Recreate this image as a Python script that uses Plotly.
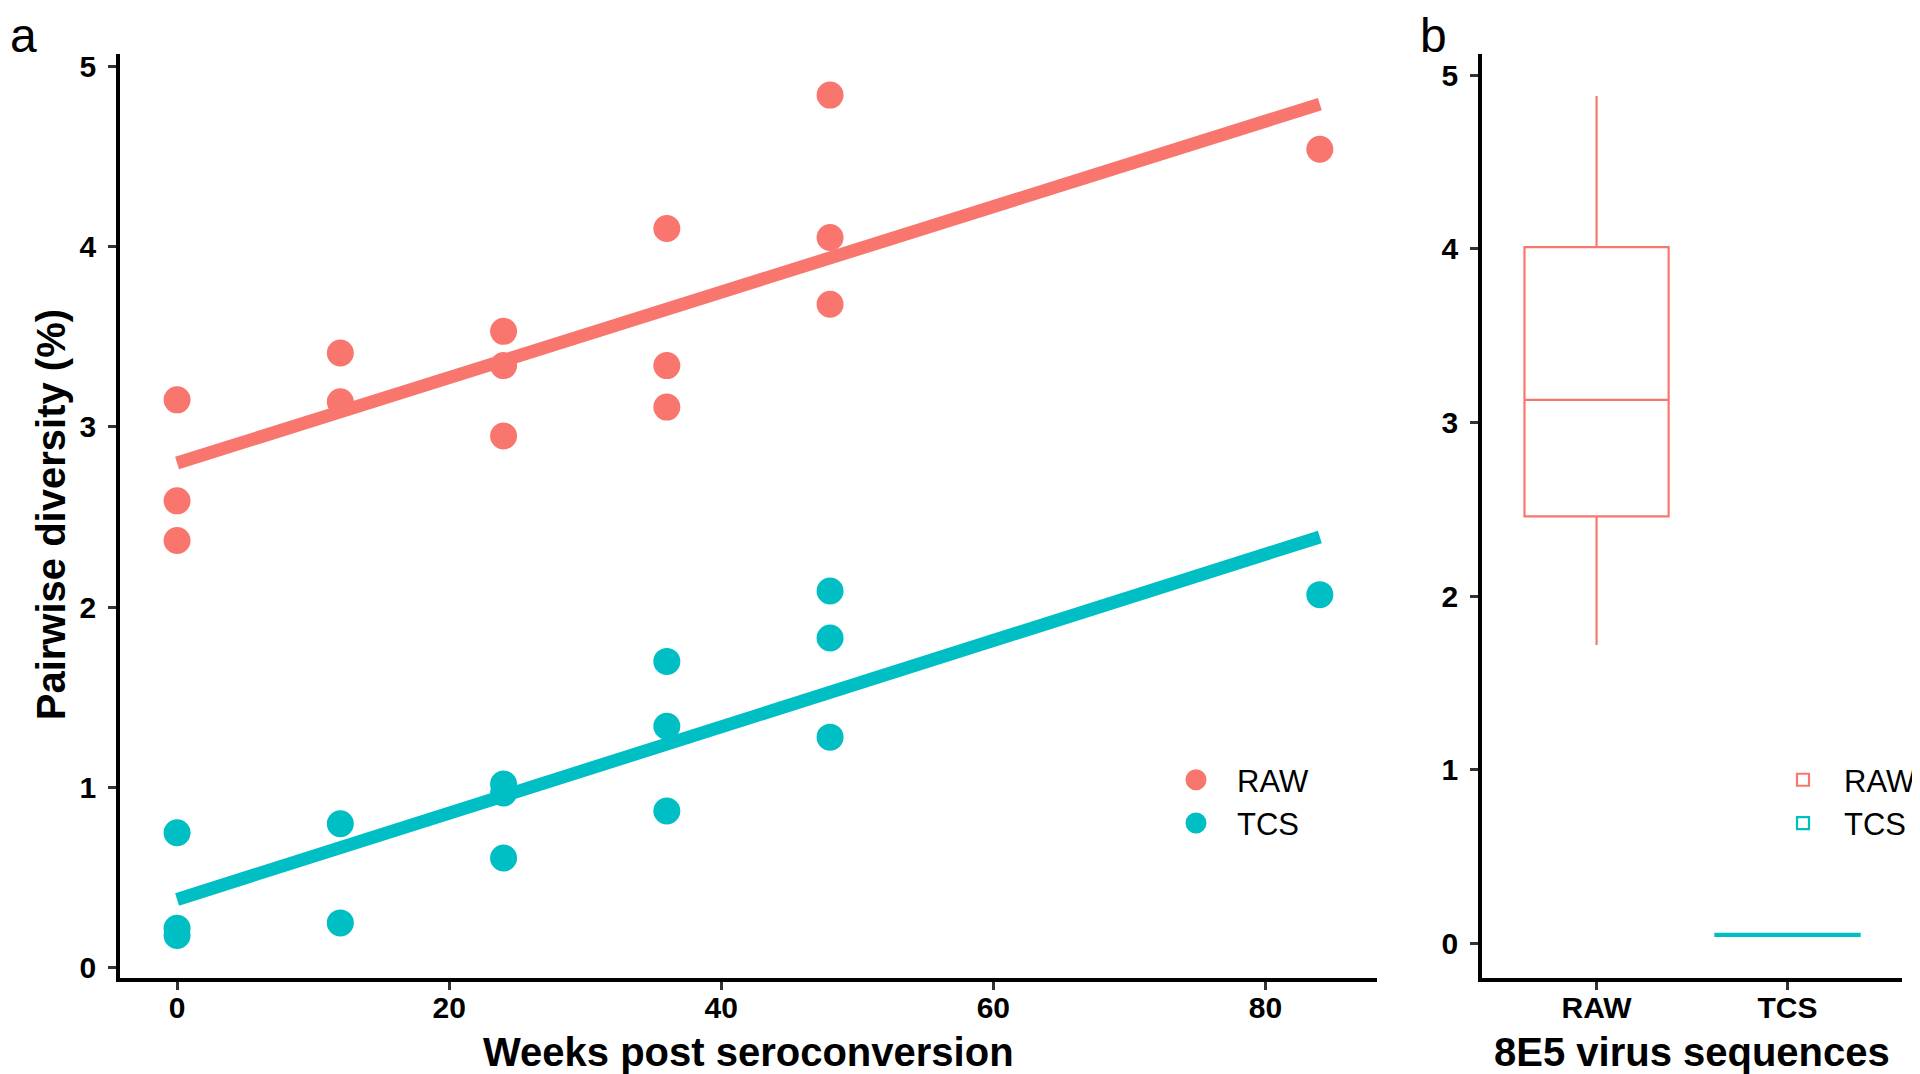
import plotly.graph_objects as go

# ---- panel a data ----
raw_weeks = [0, 0, 0, 12, 12, 24, 24, 24, 36, 36, 36, 48, 48, 48, 84]
raw_div = [3.15, 2.59, 2.37, 3.41, 3.14, 3.53, 3.34, 2.95, 4.10, 3.34, 3.11, 4.84, 4.05, 3.68, 4.54]
tcs_weeks = [0, 0, 0, 12, 12, 24, 24, 24, 36, 36, 36, 48, 48, 48, 84]
tcs_div = [0.75, 0.22, 0.18, 0.80, 0.25, 1.02, 0.97, 0.61, 1.70, 1.34, 0.87, 2.09, 1.83, 1.28, 2.07]
fit_weeks = [0, 84]
raw_fit = [2.80, 4.79]
tcs_fit = [0.38, 2.39]

# ---- panel b data (box statistics) ----
box_groups = ["RAW", "TCS"]
box_q1 = [2.46, 0.045]
box_median = [3.13, 0.05]
box_q3 = [4.01, 0.056]
box_lower = [1.72, 0.045]
box_upper = [4.88, 0.056]

RED = "#F8766D"
CYAN = "#00BFC4"
colors = [RED, CYAN]
FONT = "Liberation Sans"
W, H = 1920, 1074

fig = go.Figure()

# fit lines first, points on top
fig.add_trace(go.Scatter(x=fit_weeks, y=raw_fit, mode="lines", showlegend=False,
                         line=dict(color=RED, width=13), xaxis="x", yaxis="y"))
fig.add_trace(go.Scatter(x=fit_weeks, y=tcs_fit, mode="lines", showlegend=False,
                         line=dict(color=CYAN, width=13), xaxis="x", yaxis="y"))
fig.add_trace(go.Scatter(x=raw_weeks, y=raw_div, mode="markers", name="RAW",
                         marker=dict(color=RED, size=22, line=dict(color=RED, width=5)),
                         legend="legend", xaxis="x", yaxis="y"))
fig.add_trace(go.Scatter(x=tcs_weeks, y=tcs_div, mode="markers", name="TCS",
                         marker=dict(color=CYAN, size=22, line=dict(color=CYAN, width=5)),
                         legend="legend", xaxis="x", yaxis="y"))

for i, g in enumerate(box_groups):
    fig.add_trace(go.Box(x=[g], q1=[box_q1[i]], median=[box_median[i]], q3=[box_q3[i]],
                         lowerfence=[box_lower[i]], upperfence=[box_upper[i]],
                         name=g, legend="legend2", xaxis="x2", yaxis="y2",
                         line=dict(color=colors[i], width=2.2), fillcolor="rgba(0,0,0,0)",
                         width=0.755, whiskerwidth=0, boxpoints=False))

axis_common = dict(showline=True, linecolor="black", linewidth=3.5, ticks="outside",
                   ticklen=8, tickwidth=3, tickcolor="#333333", showgrid=False,
                   zeroline=False,
                   tickfont=dict(family=FONT, size=30, color="black", weight="bold"))

ydom = [0.0922, 0.9609]

annotations = [
    dict(text="<b>Weeks post seroconversion</b>", xref="paper", yref="paper",
         x=740 / W, y=1 - 1050 / H, xanchor="center", yanchor="middle",
         showarrow=False, font=dict(family=FONT, size=40, color="black")),
    dict(text="<b>8E5 virus sequences</b>", xref="paper", yref="paper",
         x=1684 / W, y=1 - 1050 / H, xanchor="center", yanchor="middle",
         showarrow=False, font=dict(family=FONT, size=40, color="black")),
    dict(text="<b>Pairwise diversity (%)</b>", xref="paper", yref="paper",
         x=43 / W, y=1 - 508 / H, xanchor="center", yanchor="middle",
         textangle=-90, showarrow=False, font=dict(family=FONT, size=40, color="black")),
    dict(text="a", xref="paper", yref="paper", x=0, y=1, xanchor="left",
         yanchor="top", yshift=5, showarrow=False,
         font=dict(family=FONT, size=48, color="black")),
    dict(text="b", xref="paper", yref="paper", x=1410 / W, y=1, xanchor="left",
         yanchor="top", yshift=5, showarrow=False,
         font=dict(family=FONT, size=48, color="black")),
]

legend_common = dict(yanchor="middle", xanchor="left", itemwidth=72,
                     font=dict(family=FONT, size=31, color="black"),
                     bgcolor="rgba(0,0,0,0)", tracegroupgap=0)

fig.update_layout(
    width=W, height=H,
    margin=dict(l=0, r=0, t=0, b=0),
    plot_bgcolor="white", paper_bgcolor="white",
    font=dict(family=FONT, color="black"),
    xaxis=dict(domain=[0.0583, 0.713], range=[-4.2, 88.2], tickvals=[0, 20, 40, 60, 80],
               anchor="y", ticklabelstandoff=-8, **axis_common),
    yaxis=dict(domain=ydom, range=[-0.055, 5.07], tickvals=[0, 1, 2, 3, 4, 5],
               anchor="x", ticklabelstandoff=6, **axis_common),
    xaxis2=dict(domain=[0.7677, 0.9865], type="category", range=[-0.6, 1.6],
                anchor="y2", ticklabelstandoff=-8, **axis_common),
    yaxis2=dict(domain=ydom, range=[-0.197, 5.124], tickvals=[0, 1, 2, 3, 4, 5],
                anchor="x2", ticklabelstandoff=6, **axis_common),
    legend=dict(x=1147 / W, y=1 - 797 / H, **legend_common),
    legend2=dict(x=1754 / W, y=1 - 797 / H, **legend_common),
    annotations=annotations,
)

fig.write_html("out.html")
